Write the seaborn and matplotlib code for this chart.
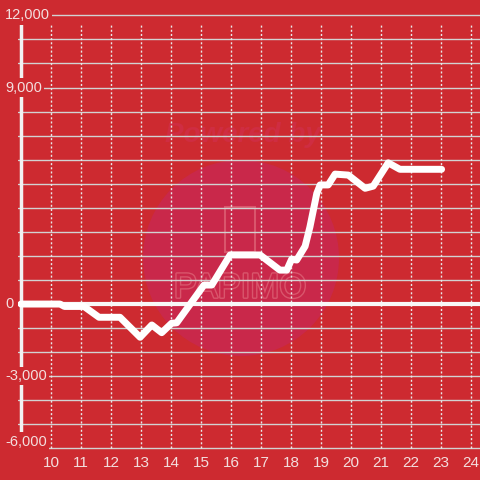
import numpy as np
import pandas as pd
import matplotlib
matplotlib.use("Agg")
import matplotlib.pyplot as plt
import matplotlib.patches as mpatches
import matplotlib.patheffects as pe
from matplotlib.transforms import blended_transform_factory
import seaborn as sns

# saat / kümülatif değer
hours = [9.0, 10.3, 10.45, 11.1, 11.6, 12.3, 12.97, 13.36, 13.69, 14.02, 14.19,
         15.1, 15.36, 15.97, 16.97, 17.63, 17.86, 18.02, 18.19, 18.47, 18.63,
         18.86, 18.97, 19.24, 19.47, 19.91, 20.47, 20.74, 21.24, 21.63, 23.02]
values = [0, 0, -100, -100, -550, -550, -1380, -870, -1190, -800, -780,
          790, 790, 2040, 2040, 1410, 1410, 1860, 1830, 2400, 3200,
          4600, 4950, 4950, 5400, 5360, 4810, 4900, 5870, 5600, 5600]
x_ticks = list(range(10, 25))
y_labels = [12000, 9000, 0, -3000, -6000]

df = pd.DataFrame({"saat": hours, "deger": values})

bg = "#cd2a30"
txt = "#f3dede"

sns.set_style("white")
plt.rcParams["font.family"] = ["Liberation Sans", "DejaVu Sans"]

fig = plt.figure(figsize=(4.8, 4.8), dpi=100, facecolor=bg)
ax = fig.add_axes([18 / 480, 0.0608, 462 / 480, 0.9123])
ax.set_facecolor(bg)

# watermark
circ = mpatches.Circle((241 / 480, 222 / 480), 98 / 480, transform=fig.transFigure,
                       facecolor="#c9284a", edgecolor="none", zorder=0.1)
ax.add_patch(circ)
ax.text(243 / 480, 345 / 480, "Powered by", transform=fig.transFigure, ha="center", va="center",
        fontsize=20, fontweight="bold", fontstyle="italic", color="#cf2d42", zorder=0.2)
ax.text(240 / 480, 192 / 480, "PAPIMO", transform=fig.transFigure, ha="center", va="center",
        fontsize=25, color="#c9284a", zorder=0.2,
        path_effects=[pe.withStroke(linewidth=2, foreground="#d9566c")])
ax.add_patch(mpatches.Rectangle((225 / 480, 228 / 480), 30 / 480, 45 / 480, transform=fig.transFigure,
                                facecolor="none", edgecolor="#d9566c", lw=1.5, zorder=0.2))

ax.set_xlim(8.9, 24.3)
ax.set_ylim(-6100, 12100)
ax.set_yticks(np.arange(-6000, 12001, 1000))
ax.yaxis.grid(True, color="#d2d2d2", lw=1)
ax.xaxis.grid(False)
ax.vlines(x_ticks, -6000, 11700, colors="#e8e8e8", lw=1, linestyles=(0, (1.5, 1.5)), zorder=1)
ax.vlines(9, -6000, 11700, colors="#f2f2f2", lw=2.5, zorder=2)
ax.axhline(0, color="#f8f8f8", lw=3, zorder=2)

sns.lineplot(data=df, x="saat", y="deger", ax=ax, color="white", lw=5, zorder=3)

for s in ax.spines.values():
    s.set_visible(False)
ax.set_xticks(x_ticks)
ax.set_xticklabels([str(h) for h in x_ticks])
ax.tick_params(axis="x", length=0, pad=3.5, labelsize=11, labelcolor=txt)
ax.tick_params(axis="y", length=0, labelleft=False)
ax.set_xlabel("")
ax.set_ylabel("")

tr = blended_transform_factory(fig.transFigure, ax.transData)
for v in y_labels:
    yy = v if v != -6000 else -5720
    ax.text(5 / 480, yy, f"{v:,}", transform=tr, ha="left", va="center", fontsize=10.5,
            color=txt, zorder=5,
            bbox=dict(boxstyle="square,pad=0.15", fc=bg, ec="none"))

fig.savefig("out.png", dpi=100, facecolor=bg)
